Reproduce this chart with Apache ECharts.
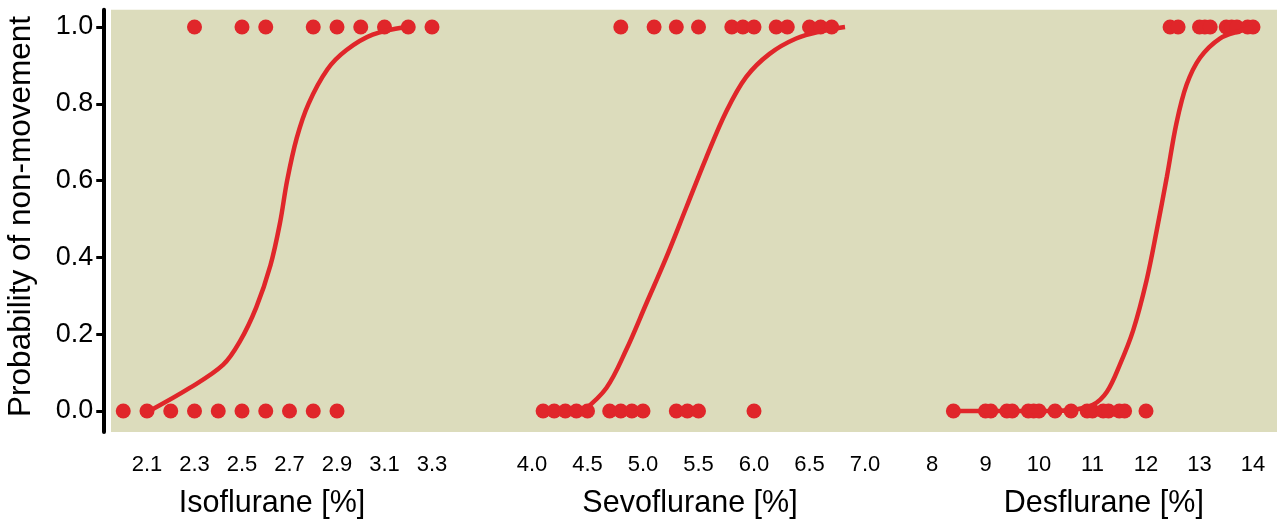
<!DOCTYPE html>
<html><head><meta charset="utf-8">
<script src="https://cdn.jsdelivr.net/npm/echarts@6/dist/echarts.min.js"></script>
<style>html,body{margin:0;padding:0;background:#fff}#c{width:1277px;height:521px}</style>
</head><body><div id="c"></div>
<script>
// ---- tick labels ----
const yTicks = [0, 0.2, 0.4, 0.6, 0.8, 1.0];
const isoTicks = [2.1, 2.3, 2.5, 2.7, 2.9, 3.1, 3.3];
const sevoTicks = [4.0, 4.5, 5.0, 5.5, 6.0, 6.5, 7.0];
const desTicks = [8, 9, 10, 11, 12, 13, 14];

// ---- observed responses (0 = movement, 1 = non-movement) ----
const isoMoved = [2.0, 2.1, 2.2, 2.3, 2.4, 2.5, 2.6, 2.7, 2.8, 2.9];
const isoStill = [2.3, 2.5, 2.6, 2.8, 2.9, 3.0, 3.1, 3.2, 3.3];
const sevoMoved = [4.1, 4.2, 4.3, 4.4, 4.5, 4.7, 4.8, 4.9, 5.0, 5.3, 5.4, 5.5, 6.0];
const sevoStill = [4.8, 5.1, 5.3, 5.5, 5.8, 5.9, 6.0, 6.2, 6.3, 6.5, 6.6, 6.7];
const desMoved = [8.4, 9.0, 9.1, 9.4, 9.5, 9.8, 9.9, 10.0, 10.3, 10.6, 10.9, 11.0, 11.2, 11.3, 11.5, 11.6, 12.0];
const desStill = [12.45, 12.6, 13.0, 13.1, 13.2, 13.5, 13.6, 13.7, 13.9, 14.0];

// ---- fitted curves ----
const isoCurveX = [2.11, 2.28, 2.42, 2.49, 2.56, 2.62, 2.66, 2.69, 2.73, 2.78, 2.86, 2.94, 3.05, 3.19];
const isoCurveY = [0.0, 0.06, 0.12, 0.18, 0.27, 0.38, 0.49, 0.60, 0.71, 0.80, 0.89, 0.94, 0.98, 1.0];
const sevoCurveX = [4.46, 4.67, 4.85, 5.03, 5.21, 5.39, 5.57, 5.75, 5.93, 6.14, 6.38, 6.62, 6.82];
const sevoCurveY = [0.0, 0.06, 0.16, 0.28, 0.40, 0.53, 0.66, 0.78, 0.87, 0.93, 0.97, 0.99, 1.0];
const desCurveX = [8.4, 10.2, 10.64, 11.01, 11.27, 11.51, 11.76, 12.01, 12.2, 12.39, 12.57, 12.76, 13.01, 13.38, 13.76, 14.0];
const desCurveY = [0.0, 0.0, 0.003, 0.016, 0.05, 0.12, 0.21, 0.34, 0.47, 0.61, 0.75, 0.85, 0.92, 0.97, 0.99, 1.0];

const RED = '#e0262a';
const BG = '#dcdcbc';
const FONT = 'Liberation Sans, Arial, Helvetica, sans-serif';

const gridTop = 9.72, gridH = 422.4;
const grids = [
  {left: 123.25, width: 332.5, top: gridTop, height: gridH},
  {left: 520.9, width: 355.2, top: gridTop, height: gridH},
  {left: 921.3, width: 353.1, top: gridTop, height: gridH}
].map(g => Object.assign(g, {containLabel: false, outerBoundsMode: 'none', show: false}));

function xAx(idx, min, max, ticks, name, fmt, pad) {
  return {
    type: 'value', gridIndex: idx, min: min, max: max,
    axisLine: {show: false}, axisTick: {show: false}, splitLine: {show: false},
    axisLabel: {customValues: ticks, formatter: fmt, color: '#000', fontSize: 22, fontFamily: FONT, margin: 22},
    name: name, nameLocation: 'middle', nameGap: 56,
    nameTextStyle: {color: '#000', fontSize: 30.5, fontFamily: FONT, padding: pad}
  };
}
function yAx(idx, visible) {
  return {
    type: 'value', gridIndex: idx, min: -0.055, max: 1.045,
    offset: visible ? 20 : 0,
    show: visible,
    axisLine: {show: visible, onZero: false, lineStyle: {color: '#000', width: 4}},
    axisTick: {show: visible, customValues: yTicks, length: 7, lineStyle: {color: '#000', width: 3}},
    splitLine: {show: false},
    axisLabel: {show: visible, customValues: yTicks, formatter: v => v.toFixed(1), color: '#000', fontSize: 27, fontFamily: FONT, margin: 10},
    name: visible ? 'Probability of non-movement' : '', nameLocation: 'middle', nameGap: 66,
    nameTextStyle: {color: '#000', fontSize: 31.5, fontFamily: FONT, padding: [0, 0, 0, 9]}
  };
}

function pts(xs, y) { return xs.map(v => [v, y]); }
function curve(xs, ys) { return xs.map((v, i) => [v, ys[i]]); }
function scat(idx, data) {
  return {type: 'scatter', xAxisIndex: idx, yAxisIndex: idx, data: data, symbolSize: 15,
    itemStyle: {color: RED, opacity: 1}, clip: false, silent: true, z: 3};
}
function line(idx, data) {
  return {type: 'line', xAxisIndex: idx, yAxisIndex: idx, data: data, showSymbol: false,
    smooth: 0.35, lineStyle: {color: RED, width: 4.5}, clip: false, silent: true, z: 4};
}

const chart = echarts.init(document.getElementById('c'), null, {renderer: 'canvas'});
chart.setOption({
  animation: false,
  backgroundColor: '#fff',
  graphic: [{type: 'rect', z: -10, shape: {x: 111, y: gridTop, width: 1166, height: gridH}, style: {fill: BG}}],
  grid: grids,
  xAxis: [
    xAx(0, 2.0, 3.4, isoTicks, 'Isoflurane [%]', v => v.toFixed(1), [0, 35, 0, 0]),
    xAx(1, 3.9, 7.1, sevoTicks, 'Sevoflurane [%]', v => v.toFixed(1), [0, 17, 0, 0]),
    xAx(2, 7.8, 14.4, desTicks, 'Desflurane [%]', v => String(Math.round(v)), [0, 0, 0, 12])
  ],
  yAxis: [yAx(0, true), yAx(1, false), yAx(2, false)],
  series: [
    scat(0, pts(isoMoved, 0)), scat(0, pts(isoStill, 1)), line(0, curve(isoCurveX, isoCurveY)),
    scat(1, pts(sevoMoved, 0)), scat(1, pts(sevoStill, 1)), line(1, curve(sevoCurveX, sevoCurveY)),
    scat(2, pts(desMoved, 0)), scat(2, pts(desStill, 1)), line(2, curve(desCurveX, desCurveY))
  ]
});
</script></body></html>
